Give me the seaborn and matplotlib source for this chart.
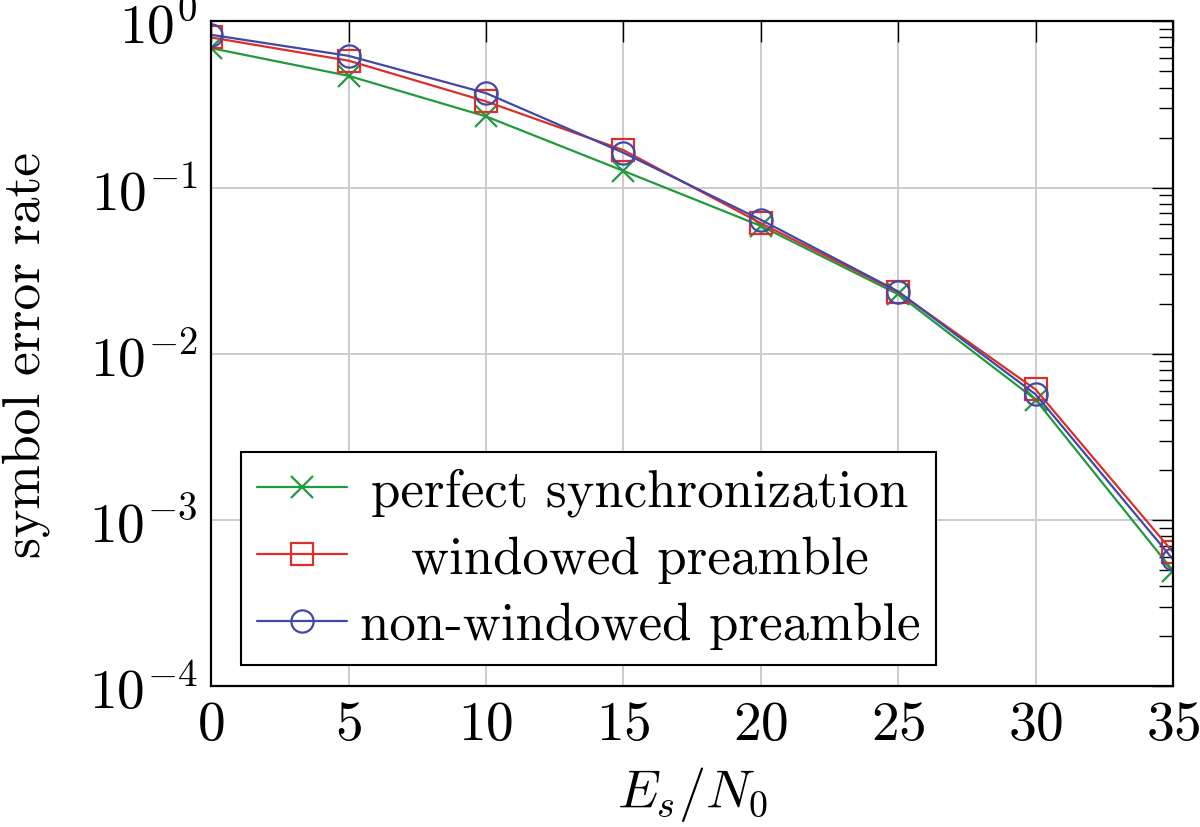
import matplotlib
matplotlib.use("Agg")
import matplotlib.pyplot as plt
import matplotlib.ticker as mticker
import pandas as pd
import seaborn as sns


ES_N0 = [0, 5, 10, 15, 20, 25, 30, 35]
PERFECT_SYNC = [0.69, 0.47, 0.268, 0.126, 0.0588, 0.0228, 0.0053, 0.000495]
WINDOWED = [0.80, 0.58, 0.33, 0.168, 0.061, 0.0235, 0.0061, 0.00064]
NON_WINDOWED = [0.83, 0.62, 0.37, 0.162, 0.064, 0.0237, 0.0057, 0.00058]

LABELS = ["perfect synchronization", "windowed preamble", "non-windowed preamble"]
COLORS = ["#1f9a3c", "#d9302c", "#4148a6"]
MARKERS = ["x", "s", "o"]


def build_frame() -> pd.DataFrame:
    rows = []
    for label, values in zip(LABELS, [PERFECT_SYNC, WINDOWED, NON_WINDOWED]):
        for x, y in zip(ES_N0, values):
            rows.append({"snr": x, "ser": y, "curve": label})
    return pd.DataFrame(rows)


def center_legend_texts(fig, leg) -> None:
    # pgfplots centres the legend entries; pad the gap before shorter labels
    fig.canvas.draw()
    renderer = fig.canvas.get_renderer()
    widths = [t.get_window_extent(renderer).width for t in leg.get_texts()]
    wmax = max(widths)
    column = leg._legend_handle_box.get_children()[0]
    for item, w in zip(column.get_children(), widths):
        item.sep += (wmax - w) / 2 * 72 / fig.dpi


def main() -> None:
    sns.set_style("white")
    plt.rcParams["font.family"] = ["cmr10", "DejaVu Serif"]
    plt.rcParams["mathtext.fontset"] = "cm"
    plt.rcParams["axes.formatter.use_mathtext"] = True
    plt.rcParams["text.color"] = "black"
    plt.rcParams["axes.labelcolor"] = "black"
    plt.rcParams["xtick.color"] = "black"
    plt.rcParams["ytick.color"] = "black"

    df = build_frame()

    fig = plt.figure(figsize=(12, 8.28), dpi=100)
    ax = fig.add_axes([0.176, 0.170, 0.8015, 0.803])

    for label, color, marker in zip(LABELS, COLORS, MARKERS):
        sub = df[df["curve"] == label]
        sns.lineplot(
            data=sub, x="snr", y="ser", ax=ax, label=label, color=color,
            marker=marker, markersize=16, markerfacecolor="none",
            markeredgecolor=color, markeredgewidth=1.6, linewidth=1.6,
        )

    ax.set_yscale("log")
    ax.set_xlim(0, 35)
    ax.set_ylim(1e-4, 1)
    ax.set_xticks(ES_N0)
    ax.yaxis.set_major_locator(mticker.LogLocator(base=10, numticks=10))
    ax.yaxis.set_minor_locator(mticker.LogLocator(base=10, subs=range(2, 10), numticks=10))
    ax.yaxis.set_minor_formatter(mticker.NullFormatter())

    ax.grid(True, which="major", color="#cccccc", linewidth=1.4)
    ax.set_axisbelow(True)
    for spine in ax.spines.values():
        spine.set_color("black")
        spine.set_linewidth(1.6)

    ax.tick_params(which="both", direction="in", top=True, right=True,
                   labelsize=40, color="black", width=1.0)
    ax.tick_params(which="major", length=15, pad=10)
    ax.tick_params(which="minor", length=10)

    ax.set_xlabel("$E_s/N_0$", fontsize=39, labelpad=10)
    ax.set_ylabel("symbol error rate", fontsize=38.5, labelpad=28)

    leg = ax.legend(
        loc="lower left", bbox_to_anchor=(0.031, 0.032), fontsize=38,
        frameon=True, fancybox=False, edgecolor="black", framealpha=1,
        handlelength=1.7, handletextpad=0.25, labelspacing=0.36,
        borderpad=0.3, borderaxespad=0,
    )
    leg.get_frame().set_linewidth(1.5)
    center_legend_texts(fig, leg)

    fig.savefig("out.png", dpi=100)
    plt.close(fig)


if __name__ == "__main__":
    main()
